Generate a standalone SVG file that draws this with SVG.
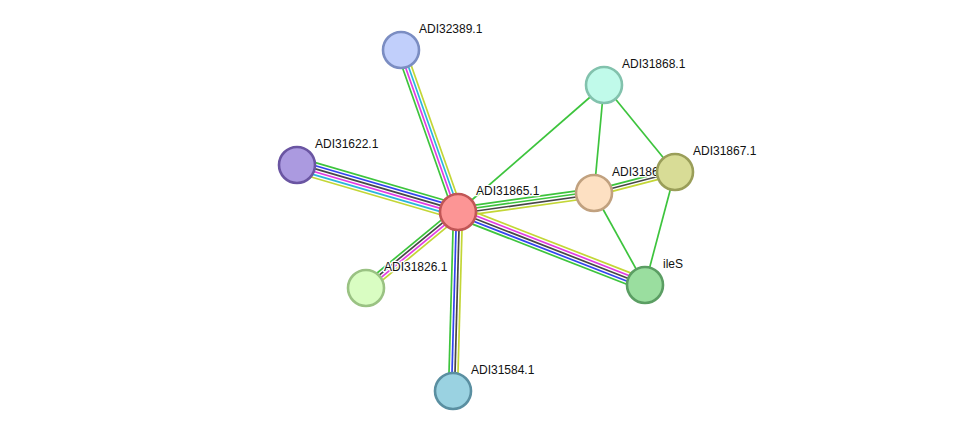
<svg xmlns="http://www.w3.org/2000/svg" width="976" height="437" viewBox="0 0 976 437">
<style>
.e line{stroke-width:1.7;fill:none}
.g{stroke:#3dc43d}
.b{stroke:#3344ee}
.k{stroke:#474747}
.m{stroke:#e23be2}
.c{stroke:#2bb6dc}
.y{stroke:#c3d636}
.s{stroke:#3dc43d;stroke-width:1.5}
.n circle{stroke-width:2.6}
text{font-family:"Liberation Sans",Arial,sans-serif;font-size:12px;fill:#111;stroke:#fff;stroke-width:2.5;paint-order:stroke;stroke-linejoin:round}
</style>
<rect width="976" height="437" fill="#fff"/>
<g id="connectors" class="e">
  <g transform="translate(458,212) rotate(-109.38)">
    <line class="g" x1="0" y1="-4.5" x2="171.7" y2="-4.5"/>
    <line class="m" x1="0" y1="-1.5" x2="171.7" y2="-1.5"/>
    <line class="c" x1="0" y1="1.5" x2="171.7" y2="1.5"/>
    <line class="y" x1="0" y1="4.5" x2="171.7" y2="4.5"/>
  </g>
  <g transform="translate(458,212) rotate(-163.73)">
    <line class="g" x1="0" y1="7.5" x2="167.7" y2="7.5"/>
    <line class="b" x1="0" y1="4.5" x2="167.7" y2="4.5"/>
    <line class="k" x1="0" y1="1.5" x2="167.7" y2="1.5"/>
    <line class="m" x1="0" y1="-1.5" x2="167.7" y2="-1.5"/>
    <line class="c" x1="0" y1="-4.5" x2="167.7" y2="-4.5"/>
    <line class="y" x1="0" y1="-7.5" x2="167.7" y2="-7.5"/>
  </g>
  <g transform="translate(458,212) rotate(140.44)">
    <line class="g" x1="0" y1="4.5" x2="119.3" y2="4.5"/>
    <line class="k" x1="0" y1="1.5" x2="119.3" y2="1.5"/>
    <line class="m" x1="0" y1="-1.5" x2="119.3" y2="-1.5"/>
    <line class="y" x1="0" y1="-4.5" x2="119.3" y2="-4.5"/>
  </g>
  <g transform="translate(458,212) rotate(91.6)">
    <line class="g" x1="0" y1="4.5" x2="179.1" y2="4.5"/>
    <line class="b" x1="0" y1="1.5" x2="179.1" y2="1.5"/>
    <line class="k" x1="0" y1="-1.5" x2="179.1" y2="-1.5"/>
    <line class="y" x1="0" y1="-4.5" x2="179.1" y2="-4.5"/>
  </g>
  <g transform="translate(458,212) rotate(-7.95)">
    <line class="g" x1="0" y1="-4.5" x2="137.3" y2="-4.5"/>
    <line class="g" x1="0" y1="-1.5" x2="137.3" y2="-1.5"/>
    <line class="k" x1="0" y1="1.5" x2="137.3" y2="1.5"/>
    <line class="y" x1="0" y1="4.5" x2="137.3" y2="4.5"/>
  </g>
  <g transform="translate(458,212) rotate(21.32)">
    <line class="y" x1="0" y1="-6" x2="200.7" y2="-6"/>
    <line class="m" x1="0" y1="-3" x2="200.7" y2="-3"/>
    <line class="k" x1="0" y1="0" x2="200.7" y2="0"/>
    <line class="b" x1="0" y1="3" x2="200.7" y2="3"/>
    <line class="g" x1="0" y1="6" x2="200.7" y2="6"/>
  </g>
  <g transform="translate(594,193) rotate(-14.53)">
    <line class="g" x1="0" y1="-3" x2="83.7" y2="-3"/>
    <line class="k" x1="0" y1="0" x2="83.7" y2="0"/>
    <line class="y" x1="0" y1="3" x2="83.7" y2="3"/>
  </g>
  <line class="s" x1="458" y1="212" x2="604" y2="85"/>
  <line class="s" x1="604" y1="85" x2="594" y2="193"/>
  <line class="s" x1="604" y1="85" x2="675" y2="172"/>
  <line class="s" x1="594" y1="193" x2="645" y2="285"/>
  <line class="s" x1="675" y1="172" x2="645" y2="285"/>
</g>
<g id="ADI32389.1" class="n"><circle cx="401" cy="50" r="18" fill="#c1cffb" stroke="#7b8dc2"/><text x="419" y="33">ADI32389.1</text></g>
<g id="ADI31622.1" class="n"><circle cx="297" cy="165" r="18" fill="#ab9ae0" stroke="#6a55a2"/><text x="315" y="148">ADI31622.1</text></g>
<g id="ADI31826.1" class="n"><circle cx="366" cy="288" r="18" fill="#d9fdc2" stroke="#9ac283"/><text x="384" y="271">ADI31826.1</text></g>
<g id="ADI31584.1" class="n"><circle cx="453" cy="391" r="18" fill="#9ad2e1" stroke="#5a8fa1"/><text x="471" y="374">ADI31584.1</text></g>
<g id="ADI31868.1" class="n"><circle cx="604" cy="85" r="18" fill="#c0faea" stroke="#82c2ad"/><text x="622" y="68">ADI31868.1</text></g>
<g id="ADI31866.1" class="n"><circle cx="594" cy="193" r="18" fill="#fde0c2" stroke="#c1a17f"/><text x="612" y="176">ADI31866.1</text></g>
<g id="ADI31867.1" class="n"><circle cx="675" cy="172" r="18" fill="#d8dc96" stroke="#9a9e59"/><text x="693" y="155">ADI31867.1</text></g>
<g id="ileS" class="n"><circle cx="645" cy="285" r="18" fill="#9ade9f" stroke="#5b9e63"/><text x="663" y="268">ileS</text></g>
<g id="ADI31865.1" class="n"><circle cx="458" cy="212" r="18" fill="#fc9595" stroke="#c15656"/><text x="476" y="195">ADI31865.1</text></g>
</svg>
